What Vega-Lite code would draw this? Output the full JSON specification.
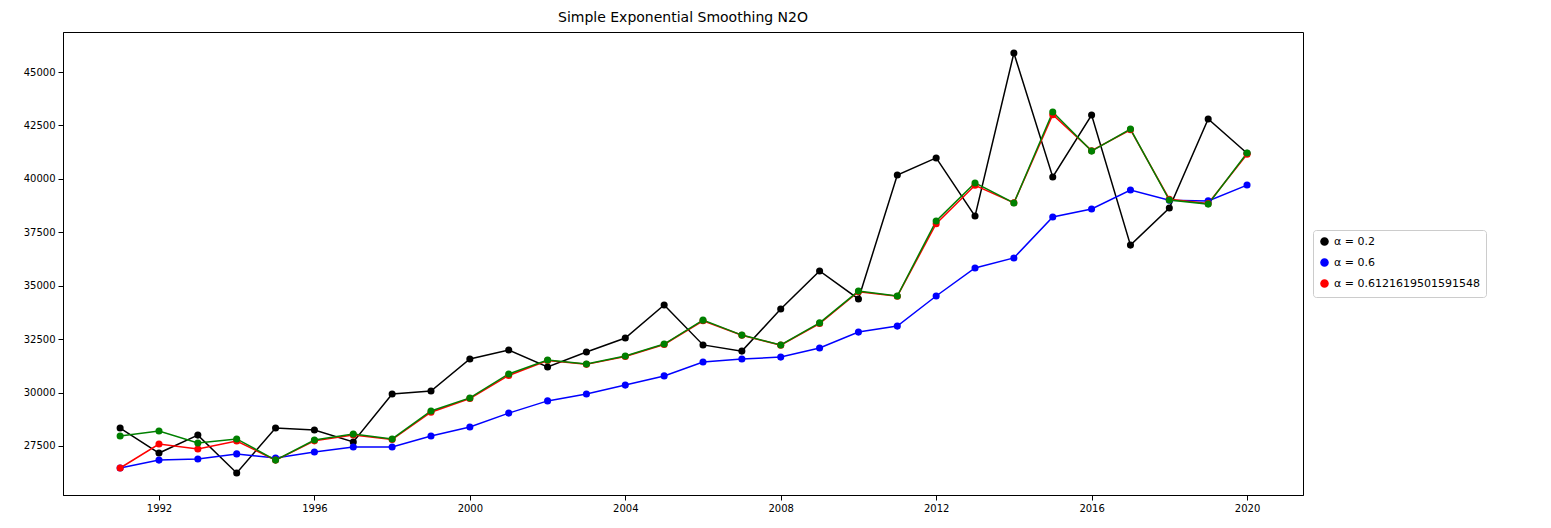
{
  "$schema": "https://vega.github.io/schema/vega-lite/v6.json",
  "autosize": "none",
  "width": 1240,
  "height": 463,
  "padding": {"left": 63, "top": 32, "right": 248, "bottom": 33},
  "background": "white",
  "title": {"text": "Simple Exponential Smoothing N2O", "font": "DejaVu Sans", "fontSize": 14, "fontWeight": "normal", "offset": 7},
  "data": {
    "values": [
      {"t": 1991, "a": 28340, "b": 26470, "c": 26470, "d": 27970},
      {"t": 1992, "a": 27170, "b": 26840, "c": 27590, "d": 28200},
      {"t": 1993, "a": 28010, "b": 26890, "c": 27360, "d": 27640},
      {"t": 1994, "a": 26240, "b": 27130, "c": 27730, "d": 27830},
      {"t": 1995, "a": 28340, "b": 26940, "c": 26840, "d": 26840},
      {"t": 1996, "a": 28250, "b": 27220, "c": 27740, "d": 27780},
      {"t": 1997, "a": 27690, "b": 27450, "c": 28020, "d": 28060},
      {"t": 1998, "a": 29930, "b": 27450, "c": 27800, "d": 27830},
      {"t": 1999, "a": 30070, "b": 27970, "c": 29080, "d": 29140},
      {"t": 2000, "a": 31570, "b": 28390, "c": 29720, "d": 29750},
      {"t": 2001, "a": 31990, "b": 29040, "c": 30800, "d": 30870},
      {"t": 2002, "a": 31200, "b": 29610, "c": 31500, "d": 31520},
      {"t": 2003, "a": 31900, "b": 29930, "c": 31320, "d": 31340},
      {"t": 2004, "a": 32550, "b": 30350, "c": 31690, "d": 31710},
      {"t": 2005, "a": 34100, "b": 30780, "c": 32250, "d": 32270},
      {"t": 2006, "a": 32230, "b": 31430, "c": 33360, "d": 33390},
      {"t": 2007, "a": 31940, "b": 31570, "c": 32680, "d": 32690},
      {"t": 2008, "a": 33910, "b": 31660, "c": 32220, "d": 32230},
      {"t": 2009, "a": 35690, "b": 32090, "c": 33230, "d": 33260},
      {"t": 2010, "a": 34380, "b": 32830, "c": 34720, "d": 34750},
      {"t": 2011, "a": 40180, "b": 33110, "c": 34510, "d": 34520},
      {"t": 2012, "a": 40980, "b": 34520, "c": 37900, "d": 38030},
      {"t": 2013, "a": 38260, "b": 35830, "c": 39700, "d": 39810},
      {"t": 2014, "a": 45890, "b": 36300, "c": 38880, "d": 38870},
      {"t": 2015, "a": 40090, "b": 38220, "c": 43000, "d": 43130},
      {"t": 2016, "a": 42990, "b": 38590, "c": 41320, "d": 41300},
      {"t": 2017, "a": 36900, "b": 39480, "c": 42300, "d": 42330},
      {"t": 2018, "a": 38640, "b": 39000, "c": 39050, "d": 39010},
      {"t": 2019, "a": 42800, "b": 38970, "c": 38850, "d": 38820},
      {"t": 2020, "a": 41200, "b": 39710, "c": 41150, "d": 41210}
    ]
  },
  "transform": [{"fold": ["a", "b", "c", "d"], "as": ["series", "value"]}],
  "mark": {"type": "line", "strokeWidth": 1.5, "point": {"filled": true, "size": 50, "opacity": 1}},
  "encoding": {
    "x": {
      "field": "t", "type": "quantitative", "title": null,
      "scale": {"domain": [1989.53, 2021.44], "nice": false, "zero": false},
      "axis": {"values": [1992, 1996, 2000, 2004, 2008, 2012, 2016, 2020], "format": "d", "grid": false, "labelFont": "DejaVu Sans", "labelFontSize": 10, "labelColor": "black", "tickColor": "black", "domainColor": "black", "labelPadding": 3}
    },
    "y": {
      "field": "value", "type": "quantitative", "title": null,
      "scale": {"domain": [25207, 46873], "nice": false, "zero": false},
      "axis": {"values": [27500, 30000, 32500, 35000, 37500, 40000, 42500, 45000], "format": "d", "grid": false, "labelFont": "DejaVu Sans", "labelFontSize": 10, "labelColor": "black", "tickColor": "black", "domainColor": "black", "labelPadding": 3}
    },
    "color": {
      "field": "series", "type": "nominal",
      "scale": {"domain": ["a", "b", "c", "d"], "range": ["black", "blue", "red", "green"]},
      "legend": {
        "values": ["a", "b", "c"],
        "title": null,
        "orient": "none", "legendX": 1250, "legendY": 198,
        "labelExpr": "datum.value == 'a' ? 'α = 0.2' : datum.value == 'b' ? 'α = 0.6' : 'α = 0.6121619501591548'",
        "labelFont": "DejaVu Sans", "labelFontSize": 11, "labelColor": "black",
        "symbolType": "circle", "symbolSize": 50,
        "strokeColor": "#cccccc", "fillColor": "white", "padding": 6, "cornerRadius": 3, "rowPadding": 6
      }
    },
    "order": {"field": "series"}
  },
  "config": {"view": {"stroke": "black"}}
}
